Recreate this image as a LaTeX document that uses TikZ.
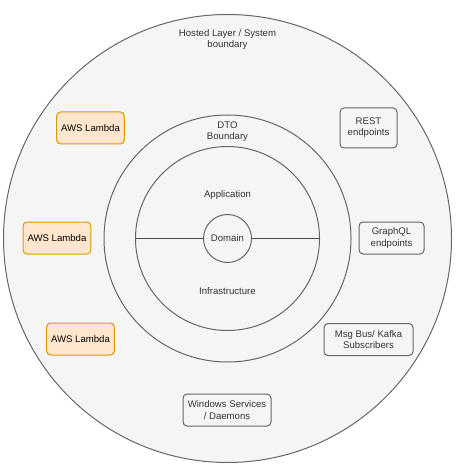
\documentclass[tikz,border=0pt]{standalone}
\usepackage{fontspec}
\setmainfont{Liberation Sans}
\definecolor{ringfill}{HTML}{F5F5F5}
\definecolor{ringline}{HTML}{666666}
\definecolor{txtgray}{HTML}{333333}
\definecolor{splitline}{HTML}{4D4D4D}
\definecolor{lambdafill}{HTML}{FFE6CC}
\definecolor{lambdaline}{HTML}{D79B00}

\begin{document}
\begin{tikzpicture}[x=0.75pt,y=-0.75pt,font=\fontsize{7.2}{8.4}\selectfont,text=txtgray,
  ring/.style={circle,draw=ringline,fill=ringfill,line width=0.75pt,inner sep=0pt},
  lambdabox/.style={rounded corners=3pt,draw=lambdaline,fill=lambdafill,line width=0.75pt,
    minimum width=50pt,minimum height=24pt,text=black},
  portbox/.style={rounded corners=3pt,draw=ringline,fill=ringfill,line width=0.75pt,
    align=center,minimum height=24pt}]
\useasboundingbox (0,0) rectangle (458,470);
% rings
\node[ring,minimum size=336pt] (hosted) at (227.5,238.5) {};
\node[ring,minimum size=185.25pt] (dto) at (227.5,238.5) {};
\node[ring,minimum size=138pt] (core) at (227.5,238.5) {};
\draw[splitline,line width=1.1pt] (core.west) -- (core.east);
\node[ring,minimum size=36pt] (domain) at (227.5,238.5) {Domain};
% ring labels
\node[align=center] (hostedlbl) at (227.5,39.5) {Hosted Layer / System\\boundary};
\node[align=center] (dtolbl) at (227.5,132) {DTO\\Boundary};
\node (applbl) at (227.5,195) {Application};
\node (infralbl) at (227.5,291) {Infrastructure};
% lambdas
\node[lambdabox] (lambdaA) at (90.5,128) {AWS Lambda};
\node[lambdabox] (lambdaB) at (57,238) {AWS Lambda};
\node[lambdabox] (lambdaC) at (80.5,339) {AWS Lambda};
% entry points
\node[portbox,minimum width=42.75pt,minimum height=30pt] (rest) at (368.5,128) {REST\\endpoints};
\node[portbox,minimum width=48.75pt] (graphql) at (391.5,238) {GraphQL\\endpoints};
\node[portbox,minimum width=66.75pt] (msgbus) at (368.5,339.5) {Msg Bus/ Kafka\\Subscribers};
\node[portbox,minimum width=66pt] (winsvc) at (227,410) {Windows Services\\/ Daemons};
\end{tikzpicture}
\end{document}
